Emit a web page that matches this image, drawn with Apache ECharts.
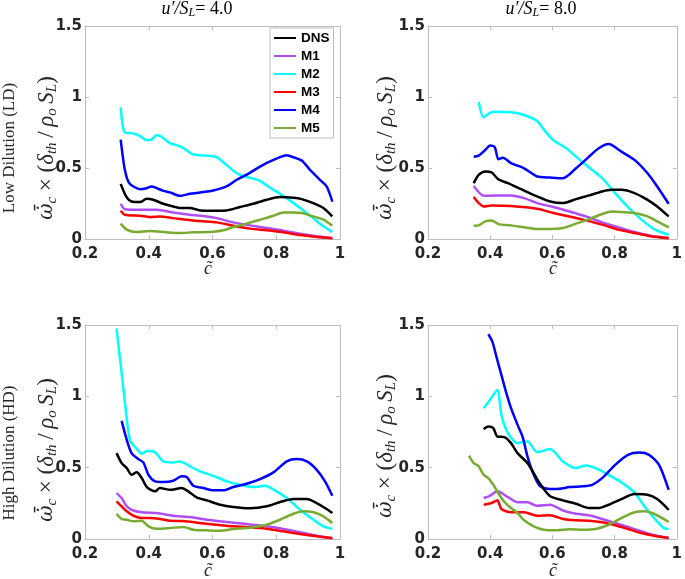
<!DOCTYPE html>
<html>
<head>
<meta charset="utf-8">
<script src="https://cdn.jsdelivr.net/npm/echarts@6/dist/echarts.min.js"></script>
<style>html,body{margin:0;padding:0;background:#fff}#c{width:685px;height:579px}</style>
</head>
<body>
<div id="c"></div>
<script>
// ---------------- data (x = c~, y = normalised reaction rate) ----------------
const seriesNames = ['DNS', 'M1', 'M2', 'M3', 'M4', 'M5'];
const xTicks = [0.2, 0.4, 0.6, 0.8, 1];
const yTicks = [0, 0.5, 1, 1.5];
const columnTitles = ['4.0', '8.0'];
const rowTitles = ['Low Dilution (LD)', 'High Dilution (HD)'];

// Low dilution, u'/SL = 4.0
const ld4_DNS = [[0.312,0.388],[0.329,0.30],[0.346,0.264],[0.373,0.26],[0.393,0.283],[0.414,0.276],[0.446,0.248],[0.477,0.229],[0.498,0.218],[0.529,0.218],[0.561,0.201],[0.603,0.199],[0.644,0.201],[0.686,0.225],[0.728,0.248],[0.77,0.276],[0.812,0.295],[0.854,0.29],[0.88,0.281],[0.916,0.253],[0.948,0.218],[0.976,0.159]];
const ld4_M1 = [[0.312,0.248],[0.325,0.21],[0.373,0.206],[0.425,0.206],[0.477,0.187],[0.529,0.171],[0.582,0.159],[0.613,0.147],[0.665,0.117],[0.718,0.096],[0.77,0.077],[0.822,0.059],[0.875,0.037],[0.927,0.019],[0.976,0.005]];
const ld4_M2 = [[0.312,0.927],[0.325,0.75],[0.352,0.744],[0.373,0.725],[0.393,0.697],[0.409,0.70],[0.425,0.733],[0.44,0.72],[0.467,0.674],[0.493,0.657],[0.51,0.639],[0.535,0.60],[0.56,0.59],[0.592,0.585],[0.613,0.576],[0.644,0.522],[0.676,0.463],[0.712,0.435],[0.749,0.41],[0.77,0.377],[0.80,0.335],[0.833,0.288],[0.875,0.218],[0.916,0.147],[0.948,0.089],[0.976,0.049]];
const ld4_M3 = [[0.312,0.199],[0.325,0.171],[0.373,0.164],[0.404,0.154],[0.435,0.159],[0.477,0.147],[0.519,0.136],[0.561,0.126],[0.613,0.117],[0.665,0.094],[0.718,0.073],[0.77,0.061],[0.822,0.047],[0.875,0.028],[0.927,0.014],[0.976,0.005]];
const ld4_M4 = [[0.312,0.70],[0.325,0.487],[0.339,0.393],[0.373,0.351],[0.393,0.358],[0.409,0.37],[0.425,0.358],[0.446,0.339],[0.467,0.328],[0.498,0.304],[0.529,0.318],[0.561,0.328],[0.603,0.342],[0.644,0.37],[0.676,0.417],[0.712,0.459],[0.749,0.51],[0.791,0.557],[0.833,0.59],[0.854,0.576],[0.88,0.552],[0.906,0.487],[0.937,0.417],[0.958,0.37],[0.976,0.264]];
const ld4_M5 = [[0.312,0.108],[0.331,0.066],[0.362,0.049],[0.404,0.056],[0.456,0.047],[0.498,0.042],[0.54,0.047],[0.603,0.051],[0.634,0.061],[0.665,0.084],[0.707,0.108],[0.749,0.136],[0.791,0.164],[0.822,0.187],[0.854,0.187],[0.88,0.183],[0.916,0.159],[0.948,0.136],[0.976,0.094]];

// Low dilution, u'/SL = 8.0
const ld8_DNS = [[0.347,0.393],[0.363,0.452],[0.384,0.475],[0.405,0.468],[0.426,0.421],[0.457,0.393],[0.499,0.351],[0.551,0.30],[0.593,0.264],[0.634,0.253],[0.676,0.281],[0.718,0.307],[0.76,0.335],[0.791,0.346],[0.822,0.346],[0.864,0.323],[0.906,0.276],[0.937,0.229],[0.974,0.159]];
const ld8_M1 = [[0.347,0.374],[0.379,0.304],[0.415,0.307],[0.467,0.307],[0.509,0.288],[0.551,0.253],[0.603,0.225],[0.655,0.194],[0.708,0.159],[0.76,0.117],[0.812,0.082],[0.864,0.049],[0.916,0.023],[0.974,0.007]];
const ld8_M2 = [[0.363,0.967],[0.379,0.857],[0.40,0.889],[0.415,0.896],[0.467,0.892],[0.509,0.873],[0.551,0.831],[0.572,0.772],[0.603,0.697],[0.645,0.639],[0.676,0.58],[0.718,0.503],[0.76,0.428],[0.802,0.323],[0.843,0.225],[0.885,0.14],[0.927,0.07],[0.974,0.03]];
const ld8_M3 = [[0.347,0.295],[0.363,0.253],[0.379,0.229],[0.405,0.236],[0.467,0.232],[0.551,0.213],[0.603,0.183],[0.655,0.159],[0.708,0.131],[0.76,0.101],[0.812,0.066],[0.864,0.042],[0.916,0.019],[0.974,0.005]];
const ld8_M4 = [[0.347,0.58],[0.363,0.587],[0.384,0.627],[0.40,0.658],[0.415,0.646],[0.426,0.562],[0.441,0.573],[0.467,0.534],[0.509,0.498],[0.551,0.44],[0.593,0.433],[0.634,0.428],[0.676,0.498],[0.718,0.58],[0.749,0.639],[0.781,0.669],[0.822,0.615],[0.864,0.557],[0.906,0.463],[0.937,0.37],[0.974,0.248]];
const ld8_M5 = [[0.347,0.094],[0.363,0.096],[0.384,0.124],[0.405,0.131],[0.426,0.105],[0.467,0.096],[0.509,0.082],[0.551,0.07],[0.593,0.07],[0.634,0.077],[0.676,0.108],[0.718,0.14],[0.76,0.176],[0.791,0.194],[0.822,0.19],[0.864,0.183],[0.906,0.159],[0.937,0.124],[0.974,0.082]];

// High dilution, u'/SL = 4.0
const hd4_DNS = [[0.299,0.602],[0.315,0.532],[0.331,0.497],[0.346,0.45],[0.362,0.467],[0.378,0.427],[0.394,0.364],[0.42,0.334],[0.435,0.357],[0.467,0.345],[0.503,0.357],[0.524,0.334],[0.55,0.292],[0.582,0.271],[0.624,0.24],[0.665,0.224],[0.718,0.215],[0.77,0.229],[0.812,0.259],[0.854,0.28],[0.896,0.28],[0.927,0.252],[0.953,0.217],[0.976,0.182]];
const hd4_M1 = [[0.299,0.322],[0.315,0.287],[0.331,0.229],[0.352,0.20],[0.378,0.187],[0.425,0.182],[0.477,0.163],[0.53,0.154],[0.582,0.135],[0.645,0.119],[0.707,0.105],[0.77,0.089],[0.822,0.07],[0.875,0.047],[0.927,0.023],[0.976,0.007]];
const hd4_M2 = [[0.299,1.477],[0.315,1.162],[0.329,0.882],[0.341,0.695],[0.365,0.625],[0.378,0.597],[0.394,0.616],[0.42,0.607],[0.446,0.544],[0.477,0.537],[0.498,0.544],[0.53,0.509],[0.561,0.474],[0.603,0.443],[0.645,0.404],[0.686,0.38],[0.728,0.364],[0.765,0.373],[0.801,0.334],[0.833,0.287],[0.875,0.205],[0.917,0.135],[0.948,0.089],[0.976,0.072]];
const hd4_M3 = [[0.299,0.264],[0.315,0.229],[0.331,0.194],[0.352,0.163],[0.378,0.147],[0.404,0.147],[0.435,0.14],[0.467,0.128],[0.509,0.126],[0.561,0.112],[0.613,0.10],[0.665,0.089],[0.718,0.082],[0.77,0.072],[0.822,0.054],[0.875,0.035],[0.927,0.019],[0.976,0.005]];
const hd4_M4 = [[0.315,0.828],[0.331,0.695],[0.346,0.602],[0.367,0.56],[0.383,0.537],[0.399,0.45],[0.42,0.404],[0.446,0.399],[0.477,0.408],[0.503,0.439],[0.519,0.434],[0.54,0.373],[0.571,0.357],[0.603,0.341],[0.634,0.341],[0.665,0.364],[0.707,0.387],[0.749,0.42],[0.791,0.467],[0.833,0.544],[0.864,0.56],[0.896,0.544],[0.927,0.485],[0.953,0.404],[0.976,0.303]];
const hd4_M5 = [[0.299,0.177],[0.315,0.14],[0.331,0.135],[0.352,0.124],[0.378,0.128],[0.399,0.089],[0.425,0.072],[0.467,0.077],[0.509,0.084],[0.54,0.065],[0.582,0.061],[0.624,0.058],[0.665,0.07],[0.718,0.079],[0.77,0.10],[0.812,0.135],[0.854,0.177],[0.885,0.194],[0.917,0.187],[0.948,0.159],[0.976,0.112]];

// High dilution, u'/SL = 8.0
const hd8_DNS = [[0.379,0.77],[0.394,0.788],[0.41,0.777],[0.423,0.718],[0.446,0.714],[0.467,0.672],[0.488,0.602],[0.52,0.532],[0.54,0.462],[0.561,0.385],[0.593,0.299],[0.634,0.271],[0.676,0.247],[0.718,0.217],[0.749,0.217],[0.781,0.24],[0.822,0.28],[0.864,0.315],[0.906,0.31],[0.937,0.28],[0.974,0.205]];
const hd8_M1 = [[0.379,0.287],[0.399,0.303],[0.423,0.334],[0.457,0.294],[0.488,0.257],[0.52,0.257],[0.551,0.233],[0.593,0.24],[0.634,0.20],[0.676,0.177],[0.718,0.166],[0.76,0.14],[0.802,0.112],[0.843,0.084],[0.885,0.054],[0.927,0.026],[0.974,0.007]];
const hd8_M2 = [[0.379,0.917],[0.399,0.975],[0.423,1.045],[0.436,0.87],[0.457,0.742],[0.488,0.672],[0.52,0.683],[0.551,0.609],[0.593,0.63],[0.634,0.543],[0.676,0.497],[0.708,0.516],[0.739,0.497],[0.781,0.45],[0.822,0.397],[0.864,0.327],[0.896,0.229],[0.927,0.147],[0.958,0.077],[0.974,0.07]];
const hd8_M3 = [[0.379,0.24],[0.405,0.252],[0.423,0.271],[0.436,0.21],[0.467,0.187],[0.509,0.187],[0.551,0.163],[0.593,0.166],[0.634,0.14],[0.676,0.131],[0.718,0.128],[0.76,0.117],[0.802,0.096],[0.843,0.07],[0.885,0.042],[0.927,0.023],[0.974,0.007]];
const hd8_M4 = [[0.394,1.435],[0.407,1.383],[0.42,1.278],[0.436,1.15],[0.452,1.022],[0.467,0.917],[0.488,0.80],[0.504,0.718],[0.52,0.578],[0.54,0.45],[0.561,0.369],[0.593,0.35],[0.624,0.352],[0.655,0.364],[0.697,0.369],[0.728,0.38],[0.76,0.427],[0.802,0.52],[0.843,0.59],[0.88,0.606],[0.911,0.59],[0.943,0.52],[0.974,0.345]];
const hd8_M5 = [[0.332,0.585],[0.347,0.532],[0.363,0.509],[0.379,0.45],[0.394,0.427],[0.41,0.38],[0.426,0.322],[0.446,0.259],[0.467,0.217],[0.488,0.182],[0.509,0.131],[0.54,0.089],[0.572,0.065],[0.614,0.061],[0.655,0.068],[0.697,0.065],[0.739,0.07],[0.781,0.10],[0.822,0.147],[0.864,0.187],[0.896,0.194],[0.927,0.177],[0.974,0.119]];

const panels = [
  [ld4_DNS, ld4_M1, ld4_M2, ld4_M3, ld4_M4, ld4_M5],
  [ld8_DNS, ld8_M1, ld8_M2, ld8_M3, ld8_M4, ld8_M5],
  [hd4_DNS, hd4_M1, hd4_M2, hd4_M3, hd4_M4, hd4_M5],
  [hd8_DNS, hd8_M1, hd8_M2, hd8_M3, hd8_M4, hd8_M5]
];

// ---------------- styling ----------------
const colors = ['#000000', '#b04ef5', '#00ffff', '#ff0000', '#0000ff', '#77ac30'];
const grids = [
  {left: 85, top: 26, width: 255, height: 213},
  {left: 428, top: 26, width: 255, height: 213},
  {left: 85, top: 325, width: 255, height: 214},
  {left: 428, top: 325, width: 255, height: 214}
];
const boxColor = '#bdbdbd';
const tickFont = {fontFamily: 'DejaVu Sans', fontWeight: 'bold', fontSize: 15, color: '#262626'};

const xAxes = [], yAxes = [], series = [];
grids.forEach((g, gi) => {
  const common = {gridIndex: gi, type: 'value', splitLine: {show: false},
    axisLine: {show: true, onZero: false, lineStyle: {color: boxColor, width: 1}},
    axisTick: {show: true, inside: true, length: 4, lineStyle: {color: boxColor}}};
  xAxes.push(Object.assign({}, common, {position: 'bottom', min: xTicks[0], max: xTicks[xTicks.length - 1], interval: 0.2,
    axisLabel: Object.assign({margin: 8, formatter: v => String(+v.toFixed(1))}, tickFont)}));
  xAxes.push(Object.assign({}, common, {position: 'top', min: xTicks[0], max: xTicks[xTicks.length - 1], interval: 0.2,
    axisLabel: {show: false}}));
  yAxes.push(Object.assign({}, common, {position: 'left', min: yTicks[0], max: yTicks[yTicks.length - 1], interval: 0.5,
    axisLabel: Object.assign({margin: 3, formatter: v => String(+v.toFixed(1))}, tickFont)}));
  yAxes.push(Object.assign({}, common, {position: 'right', min: yTicks[0], max: yTicks[yTicks.length - 1], interval: 0.5,
    axisLabel: {show: false}}));
  panels[gi].forEach((d, si) => {
    series.push({
      name: seriesNames[si], type: 'line', xAxisIndex: 2 * gi, yAxisIndex: 2 * gi,
      data: d, symbol: 'none', smooth: 0.25, animation: false,
      lineStyle: {color: colors[si], width: 2.5}, itemStyle: {color: colors[si]},
      z: si === 0 ? 3 : 2
    });
  });
});

const serif = 'Liberation Serif, DejaVu Serif, serif';
const yNameRich = {
  w: {fontFamily: 'DejaVu Serif', fontStyle: 'italic', fontSize: 20, lineHeight: 26, color: '#262626'},
  m: {fontFamily: serif, fontStyle: 'italic', fontSize: 23, lineHeight: 26, color: '#262626'},
  n: {fontFamily: serif, fontSize: 23, lineHeight: 26, color: '#262626'},
  s: {fontFamily: serif, fontStyle: 'italic', fontSize: 15, lineHeight: 17, verticalAlign: 'bottom', color: '#262626'}
};
const yNameText = '{w|ω\u0307\u0304}{s|c}{n| × (}{m|δ}{s|th}{n|\u2009/\u2009}{m|ρ}{s|o}{m|\u2009S}{s|L}{n|)}';

function rotText(x, y, text, rich, font) {
  return {type: 'text', x: x, y: y, rotation: Math.PI / 2,
    style: Object.assign({text: text, rich: rich, align: 'center', verticalAlign: 'middle', fill: '#262626'}, font || {})};
}
const titleRich = {
  i: {fontFamily: serif, fontStyle: 'italic', fontSize: 18, lineHeight: 20, color: '#262626'},
  s: {fontFamily: serif, fontStyle: 'italic', fontSize: 12, lineHeight: 13, verticalAlign: 'bottom', color: '#262626'},
  r: {fontFamily: serif, fontSize: 18, lineHeight: 20, color: '#262626'}
};
const graphic = [
  {type: 'text', x: 197, y: 9, style: {text: '{i|u′/S}{s|L}{r|= ' + columnTitles[0] + '}', rich: titleRich, align: 'center', verticalAlign: 'middle'}},
  {type: 'text', x: 541, y: 9, style: {text: '{i|u′/S}{s|L}{r|= ' + columnTitles[1] + '}', rich: titleRich, align: 'center', verticalAlign: 'middle'}},
  rotText(10, 148, rowTitles[0], null, {font: '17px ' + serif}),
  rotText(10, 453, rowTitles[1], null, {font: '17px ' + serif}),
  rotText(47, 148, yNameText, yNameRich),
  rotText(386, 148, yNameText, yNameRich),
  rotText(47, 450, yNameText, yNameRich),
  rotText(386, 446, yNameText, yNameRich)
];
[[208, 269], [553, 269], [208, 571], [553, 571]].forEach(p => {
  graphic.push({type: 'text', x: p[0], y: p[1], style: {text: 'c\u0303', font: 'italic 18px ' + serif, fill: '#262626', align: 'center', verticalAlign: 'middle'}});
});

const chart = echarts.init(document.getElementById('c'), null, {renderer: 'canvas'});
chart.setOption({
  animation: false,
  backgroundColor: '#ffffff',
  grid: grids,
  xAxis: xAxes,
  yAxis: yAxes,
  legend: {
    data: seriesNames, orient: 'vertical', left: 270, top: 28,
    itemWidth: 22, itemHeight: 14, itemGap: 4, padding: [3, 4, 3, 3],
    backgroundColor: '#ffffff', borderColor: '#bdbdbd', borderWidth: 1,
    itemStyle: {opacity: 0},
    textStyle: {fontFamily: 'Liberation Sans, Arial, sans-serif', fontWeight: 'bold', fontSize: 13.5, color: '#000'},
    selectedMode: false
  },
  series: series,
  graphic: graphic
});
</script>
</body>
</html>
